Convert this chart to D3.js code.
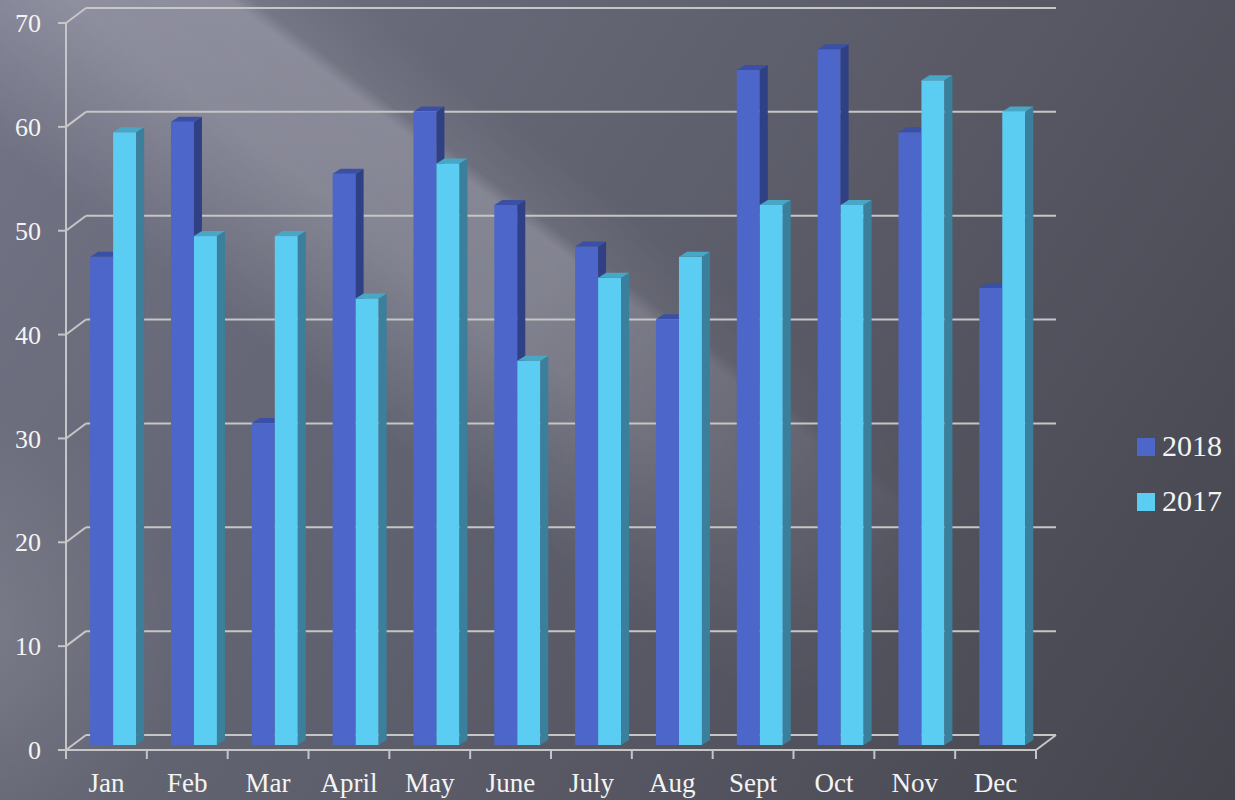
<!DOCTYPE html>
<html>
<head>
<meta charset="utf-8">
<script src="https://cdn.jsdelivr.net/npm/d3@7"></script>
<style>
html,body{margin:0;padding:0;background:#4a4b55;}
svg{display:block;}
</style>
</head>
<body>
<svg id="chart" width="1235" height="800"></svg>
<script>
const months = ["Jan","Feb","Mar","April","May","June","July","Aug","Sept","Oct","Nov","Dec"];
const series = ["2018","2017"];
const values2018 = [47,60,31,55,61,52,48,41,65,67,59,44];
const values2017 = [59,49,49,43,56,37,45,47,52,52,64,61];
const yTicks = [0,10,20,30,40,50,60,70];

const W = 1235, H = 800;
const svg = d3.select("#chart");
const defs = svg.append("defs");

// background: base diagonal darkening
const bg = defs.append("linearGradient").attr("id","bg")
  .attr("gradientUnits","userSpaceOnUse")
  .attr("x1",0).attr("y1",0).attr("x2",W).attr("y2",H);
[[0,"#737486"],[0.45,"#5f606d"],[1,"#43444c"]]
  .forEach(s=>bg.append("stop").attr("offset",s[0]).attr("stop-color",s[1]));
svg.append("rect").attr("width",W).attr("height",H).attr("fill","url(#bg)");
// light band with a seam running down-right
const band = defs.append("linearGradient").attr("id","band")
  .attr("gradientUnits","userSpaceOnUse")
  .attr("x1",630).attr("y1",-76).attr("x2",147).attr("y2",562);
[[0,0],[0.28,0],[0.36,0.07],[0.378,0.24],[0.5,0.22],[0.58,0.13],[0.7,0.0],[1,0]]
  .forEach(s=>band.append("stop").attr("offset",s[0]).attr("stop-color","#f4f4ff").attr("stop-opacity",s[1]));
// fade the band along its length
const fade = defs.append("linearGradient").attr("id","fade")
  .attr("gradientUnits","userSpaceOnUse")
  .attr("x1",233).attr("y1",17).attr("x2",950).attr("y2",560);
[[0,"#ffffff"],[0.45,"#ffffff"],[1,"#000000"]]
  .forEach(s=>fade.append("stop").attr("offset",s[0]).attr("stop-color",s[1]));
defs.append("mask").attr("id","fadeMask").attr("maskUnits","userSpaceOnUse")
  .attr("x",0).attr("y",0).attr("width",W).attr("height",H)
  .append("rect").attr("width",W).attr("height",H).attr("fill","url(#fade)");
svg.append("rect").attr("width",W).attr("height",H).attr("fill","url(#band)").attr("mask","url(#fadeMask)");
const bg2 = defs.append("radialGradient").attr("id","bg2")
  .attr("gradientUnits","userSpaceOnUse").attr("cx",-30).attr("cy",630).attr("r",220);
bg2.append("stop").attr("offset",0).attr("stop-color","#ffffff").attr("stop-opacity",0.12);
bg2.append("stop").attr("offset",1).attr("stop-color","#ffffff").attr("stop-opacity",0);
svg.append("rect").attr("width",W).attr("height",H).attr("fill","url(#bg2)");

// geometry
const x0 = 66, x1 = 1036;
const depthX = 20, depthY = -15;
const yFront = d3.scaleLinear().domain([0,70]).range([750,23]);
const x = d3.scaleBand().domain(months).range([x0,x1]);
const barShiftX = 6.7, barShiftY = -5;
const barW = 23, sideX = 8, sideY = -5;
const yBar = v => yFront(v) + barShiftY;

const gridColor = "#c6c6c6";
const grid = svg.append("g").attr("stroke",gridColor).attr("stroke-width",2).attr("fill","none");
yTicks.forEach(t=>{
  const yf = yFront(t), yb = yf + depthY;
  grid.append("line").attr("x1",x0+depthX).attr("x2",x1+depthX).attr("y1",yb).attr("y2",yb);
  grid.append("line").attr("x1",x0).attr("y1",yf).attr("x2",x0+depthX).attr("y2",yb);
  grid.append("line").attr("x1",x0-8).attr("x2",x0).attr("y1",yf).attr("y2",yf);
});
grid.append("line").attr("x1",x0).attr("x2",x0).attr("y1",yFront(70)).attr("y2",yFront(0));
grid.append("line").attr("x1",x0).attr("x2",x1).attr("y1",yFront(0)).attr("y2",yFront(0));
grid.append("line").attr("x1",x1).attr("y1",yFront(0)).attr("x2",x1+depthX).attr("y2",yFront(0)+depthY);
months.concat(["_end"]).forEach((m,i)=>{
  const xx = i < months.length ? x(m) : x1;
  grid.append("line").attr("x1",xx).attr("x2",xx).attr("y1",yFront(0)).attr("y2",yFront(0)+9);
});

// bars
const colors = {
  "2018": {front:"#4c67c9", top:"#3a4fa6", side:"#2f4184"},
  "2017": {front:"#5ccdf2", top:"#48a6c6", side:"#3a7f9b"}
};
const data = months.map((m,i)=>({month:m, "2018":values2018[i], "2017":values2017[i]}));
const bars = svg.append("g");
data.forEach(d=>{
  const cx = x(d.month) + x.bandwidth()/2 + barShiftX;
  series.forEach((s,j)=>{
    const xl = cx - barW + j*barW, xr = xl + barW;
    const yt = yBar(d[s]), yb = yBar(0);
    const c = colors[s];
    const g = bars.append("g");
    g.append("rect").attr("x",xl).attr("y",yt).attr("width",barW).attr("height",yb-yt).attr("fill",c.front);
    g.append("polygon").attr("points",[[xr,yt],[xr+sideX,yt+sideY],[xr+sideX,yb+sideY],[xr,yb]].map(p=>p.join(",")).join(" ")).attr("fill",c.side);
    g.append("polygon").attr("points",[[xl,yt],[xl+sideX,yt+sideY],[xr+sideX,yt+sideY],[xr,yt]].map(p=>p.join(",")).join(" ")).attr("fill",c.top);
  });
});

// labels
const font = "'Liberation Serif','DejaVu Serif',serif";
const labels = svg.append("g").attr("fill","#f4f4f4").attr("font-family",font);
yTicks.forEach(t=>{
  labels.append("text").attr("x",41).attr("y",yFront(t)).attr("dy","0.35em")
    .attr("text-anchor","end").attr("font-size",26).text(t);
});
months.forEach(m=>{
  labels.append("text").attr("x",x(m)+x.bandwidth()/2).attr("y",792)
    .attr("text-anchor","middle").attr("font-size",27).text(m);
});

// legend
const legend = svg.append("g").attr("font-family",font);
series.forEach((s,i)=>{
  const ly = 438 + i*55;
  legend.append("rect").attr("x",1137).attr("y",ly).attr("width",18).attr("height",18).attr("fill",colors[s].front);
  legend.append("text").attr("x",1162).attr("y",ly+18).attr("font-size",30).attr("fill","#f4f4f4").text(s);
});
</script>
</body>
</html>
